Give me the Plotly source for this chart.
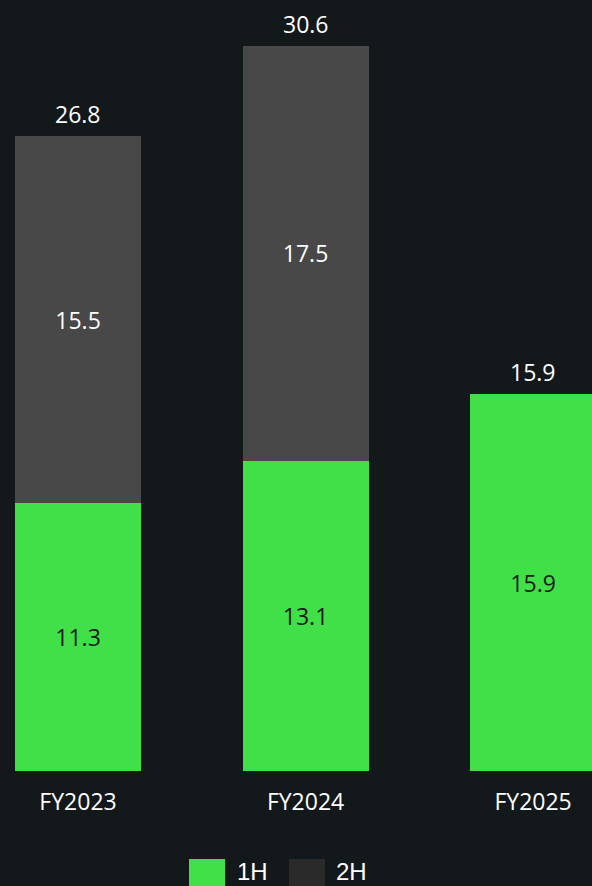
import plotly.graph_objects as go

categories = ["FY2023", "FY2024", "FY2025"]
h1_values = [11.3, 13.1, 15.9]
h2_values = [15.5, 17.5, None]
totals = [26.8, 30.6, 15.9]
legend_labels = ["1H", "2H"]

BG = "#13181b"
GREEN = "#41e049"
GRAY = "#484848"
LEG_GRAY = "#2a2a2a"
FONT = "Open Sans"
FS = 23

fig = go.Figure()
fig.add_trace(go.Bar(
    x=categories, y=h1_values, name=legend_labels[0], marker_color=GREEN,
    marker_line_width=0, text=[f"{v:.1f}" for v in h1_values],
    textposition="inside", insidetextanchor="middle",
    textfont=dict(color="#1a1a1a", size=FS, family=FONT),
    showlegend=False, width=0.554,
))
fig.add_trace(go.Bar(
    x=categories, y=h2_values, name=legend_labels[1], marker_color=GRAY,
    marker_line_width=0, text=[f"{v:.1f}" if v is not None else "" for v in h2_values],
    textposition="inside", insidetextanchor="middle",
    textfont=dict(color="white", size=FS, family=FONT),
    showlegend=False, width=0.554,
))
for c, t in zip(categories, totals):
    fig.add_annotation(x=c, y=t, text=f"{t:.1f}", showarrow=False,
                       yanchor="bottom", yshift=4,
                       font=dict(color="white", size=FS, family=FONT))

W, H = 592, 886
plot_h = 771
fig.update_layout(
    barmode="stack",
    width=W, height=H,
    paper_bgcolor=BG, plot_bgcolor=BG,
    margin=dict(l=0, r=0, t=0, b=115),
    xaxis=dict(range=[-0.343, 2.259], showgrid=False, zeroline=False, showline=False,
               ticks="", ticklabelstandoff=15,
               tickfont=dict(color="white", size=FS, family=FONT)),
    yaxis=dict(range=[0, 32.55], visible=False),
)

leg_items = [(legend_labels[0], GREEN, 189, 238), (legend_labels[1], LEG_GRAY, 289, 337)]
for label, color, x0, tx in leg_items:
    fig.add_shape(type="rect", xref="paper", yref="paper",
                  x0=x0 / W, x1=(x0 + 36) / W,
                  y0=(771 - 886) / plot_h, y1=(771 - 859) / plot_h,
                  fillcolor=color, line_width=0)
    fig.add_annotation(xref="paper", yref="paper", x=(tx - 3) / W, y=(771 - 871) / plot_h,
                       text=label, showarrow=False, xanchor="left", yanchor="middle",
                       font=dict(color="white", size=24, family="Liberation Sans"))

fig.write_html("out.html", config={"displayModeBar": False},
               post_script="document.body.style.margin='0px';document.body.style.background='%s';" % BG)
